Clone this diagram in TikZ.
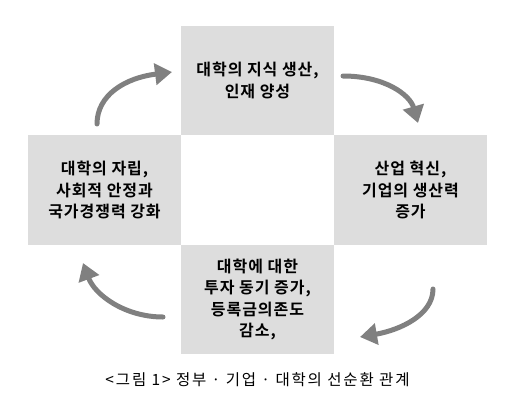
\documentclass[tikz,border=0pt]{standalone}
\usepackage{fontspec}
\newfontfamily\krfont{Noto Sans CJK KR}
\newfontfamily\krbold{Noto Sans CJK KR Bold}[LetterSpace=6]
\newfontfamily\krcap{Noto Sans CJK KR}[LetterSpace=12]
\usetikzlibrary{arrows.meta}
\tikzset{
  cyclebox/.style={rectangle, fill=boxgray, inner sep=0pt, minimum width=153pt, minimum height=109.5pt,
    align=center, font=\krbold\fontsize{16}{21.5}\selectfont},
  cyclearrow/.style={draw=arrowgray, line width=5pt, line cap=round,
    -{Triangle[length=17pt,width=21pt]}}
}
\definecolor{boxgray}{HTML}{DDDDDD}
\definecolor{arrowgray}{HTML}{808080}
\begin{document}
\begin{tikzpicture}[x=1pt,y=-1pt]
\useasboundingbox (0,0) rectangle (513,407);
\node[cyclebox] (top) at (257.5,80.5) {대학의 지식 생산,\\인재 양성};
\node[cyclebox] (left) at (104.5,190) {대학의 자립,\\사회적 안정과\\국가경쟁력 강화};
\node[cyclebox] (right) at (410.5,190) {산업 혁신,\\기업의 생산력\\증가};
\node[cyclebox] (bottom) at (257.5,299.5) {대학에 대한\\투자 동기 증가,\\등록금의존도\\감소,};
\node[font=\krcap\fontsize{15.5}{16}\selectfont, inner sep=0pt] (caption) at (257.5,380) {<그림 1> 정부 · 기업 · 대학의 선순환 관계};
\coordinate (a1s) at (97,124);
\coordinate (a1e) at (172,72);
\coordinate (a2s) at (343,76);
\coordinate (a2e) at (418,123);
\coordinate (a3s) at (433,289);
\coordinate (a3e) at (360,337);
\coordinate (a4s) at (163,317);
\coordinate (a4e) at (83,263);
\draw[cyclearrow] (a1s) .. controls (97,95) and (125,78) .. (a1e);
\draw[cyclearrow] (a2s) .. controls (385,76) and (410,95) .. (a2e);
\draw[cyclearrow] (a3s) .. controls (433,315) and (400,330) .. (a3e);
\draw[cyclearrow] (a4s) .. controls (125,317) and (95,295) .. (a4e);
\end{tikzpicture}
\end{document}
